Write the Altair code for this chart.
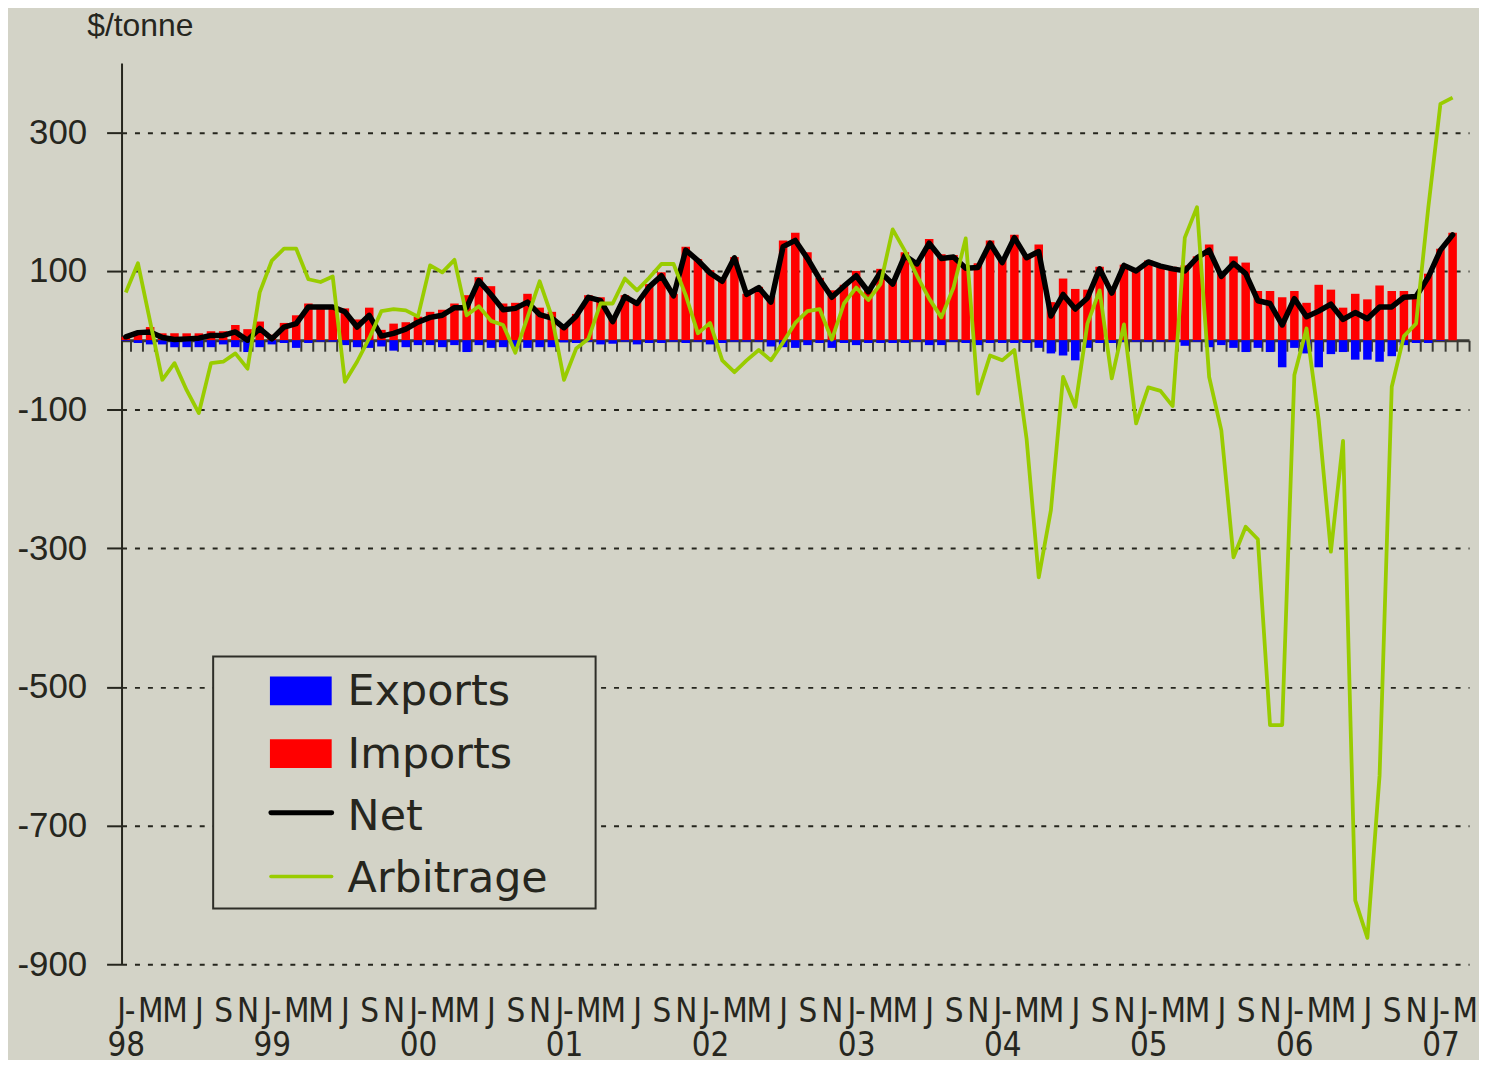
import json
import altair as alt
import pandas as pd

# ---- data (monthly, Jan 1998 .. Feb 2007; Mar 2007 band shown empty) ----
month_letters = ["J-", "", "M", "", "M", "", "J", "", "S", "", "N", ""]
year_labels = ["98", "99", "00", "01", "02", "03", "04", "05", "06", "07"]
n_bands = 111  # Jan 1998 .. Mar 2007

imports = [5, 13, 19, 10, 10, 10, 10, 13, 13, 22, 16, 27, 8, 25, 36, 53, 50, 50,
           46, 30, 47, 15, 24, 26, 34, 41, 44, 53, 65, 91, 78, 53, 54, 67, 47, 41,
           21, 38, 65, 62, 32, 65, 57, 81, 98, 67, 135, 117, 101, 88, 120, 67, 77, 64,
           144, 155, 127, 90, 72, 80, 100, 74, 103, 86, 127, 112, 146, 124, 123, 108, 111, 144,
           117, 152, 121, 138, 55, 89, 74, 73, 106, 72, 109, 100, 115, 108, 106, 108, 121, 138,
           96, 121, 112, 71, 71, 62, 71, 54, 80, 73, 47, 67, 59, 79, 71, 71, 66, 96,
           132, 155]
exports = [-1, -4, -6, -6, -10, -10, -10, -10, -6, -10, -17, -10, -6, -4, -11, -4, -2, -2,
           -7, -10, -11, -9, -15, -10, -7, -7, -10, -7, -17, -7, -11, -10, -10, -11, -10, -10,
           -3, -4, -2, -6, -5, -2, -6, -4, -4, -2, -4, -2, -6, -4, -2, -2, -2, -9,
           -10, -11, -7, -4, -11, -4, -7, -4, -4, -4, -4, -2, -7, -7, -2, -4, -7, -4,
           -4, -4, -4, -11, -19, -22, -29, -11, -4, -4, -2, -2, -2, -2, -2, -8, -2, -10,
           -7, -11, -17, -11, -17, -39, -11, -19, -39, -20, -17, -28, -28, -31, -23, -7, -4, -4,
           -1, 0]
net = [5, 11, 12, 4, 1, 2, 3, 7, 7, 12, 0, 17, 2, 19, 24, 48, 48, 48,
       41, 19, 36, 6, 10, 16, 26, 33, 36, 47, 47, 86, 66, 44, 46, 55, 37, 32,
       18, 35, 62, 57, 27, 63, 53, 77, 93, 64, 130, 115, 97, 85, 119, 66, 76, 55,
       135, 144, 118, 88, 62, 78, 93, 70, 98, 81, 122, 110, 140, 118, 120, 104, 105, 140,
       112, 148, 119, 128, 35, 66, 45, 61, 103, 68, 108, 100, 113, 107, 103, 100, 119, 130,
       92, 111, 96, 57, 53, 22, 60, 34, 42, 52, 30, 40, 31, 48, 48, 62, 63, 91,
       130, 152]
arbitrage = [69, 111, 27, -57, -33, -72, -105, -33, -31, -19, -41, 69, 115, 132, 132, 88, 84, 92,
             -60, -31, 3, 42, 45, 43, 34, 108, 98, 116, 36, 49, 28, 22, -18, 33, 85, 34,
             -57, -12, 2, 53, 53, 89, 72, 90, 110, 110, 65, 10, 25, -29, -46, -29, -14, -29,
             -3, 25, 42, 45, 1, 53, 76, 58, 81, 160, 129, 93, 60, 33, 76, 147, -77, -22,
             -29, -14, -142, -342, -245, -53, -96, 24, 72, -55, 23, -120, -68, -73, -95, 148, 192, -53,
             -130, -313, -269, -287, -555, -555, -50, 17, -115, -305, -145, -808, -862, -628, -67, 6, 24, 191,
             341, 350]

y_ticks = [300, 100, -100, -300, -500, -700, -900]
legend_labels = ["Exports", "Imports", "Net", "Arbitrage"]

BG = "#d3d3c7"
INK = "#26261e"
W, H = 1353, 905
Y_MIN, Y_MAX = -900, 400

df = pd.DataFrame({
    "idx": list(range(len(imports))),
    "Imports": imports,
    "Exports": exports,
    "Net": net,
    "Arbitrage": arbitrage,
})

label_expr = (
    f"datum.value % 12 == 0 ? [{json.dumps(month_letters)}[0], "
    f"{json.dumps(year_labels)}[floor(datum.value / 12)]] : "
    f"{json.dumps(month_letters)}[datum.value % 12]"
)

zero_offset = -(H * (0 - Y_MIN) / (Y_MAX - Y_MIN))

x_axis = alt.Axis(
    orient="bottom", offset=zero_offset, title=None, grid=False,
    tickBand="extent", domainColor="#3a3a34", domainWidth=3,
    tickColor="#3a3a34", tickWidth=2, tickSize=11,
    labelExpr=label_expr, labelAngle=0, labelAlign="center", labelBaseline="top",
    labelPadding=647, labelLineHeight=34, labelOverlap=False, labelFlush=False,
    labelFont="Liberation Sans Narrow, DejaVu Sans Condensed, Liberation Sans",
    labelFontSize=33, labelColor=INK,
)
x_enc = alt.X("idx:O", scale=alt.Scale(domain=list(range(n_bands)), paddingInner=0.3, paddingOuter=0),
              axis=x_axis)

y_axis = alt.Axis(
    values=y_ticks, grid=True, gridDash=[5, 8], gridColor=INK, gridWidth=2,
    domainColor=INK, domainWidth=2, tickColor=INK, tickWidth=2, tickSize=15,
    labelExpr="'' + datum.value",
    labelFont="Liberation Sans", labelFontSize=35, labelColor=INK, labelPadding=20,
    title="$/tonne", titleAngle=0, titleAlign="left", titleBaseline="alphabetic",
    titleX=-35, titleY=-28, titleFont="Liberation Sans", titleFontSize=32,
    titleFontWeight="normal", titleColor=INK,
)
y_scale = alt.Scale(domain=[Y_MIN, Y_MAX], nice=False, zero=False)

def yenc(field):
    return alt.Y(f"{field}:Q", scale=y_scale, axis=y_axis, title="$/tonne")

base = alt.Chart(df)
bars_imp = base.mark_bar(color="#ff0000").encode(x=x_enc, y=yenc("Imports"))
bars_exp = base.mark_bar(color="#0000ff").encode(x=x_enc, y=yenc("Exports"))
line_net = base.mark_line(color="#000000", strokeWidth=5.5, strokeJoin="round", strokeCap="round").encode(
    x=x_enc, y=yenc("Net"))
line_arb = base.mark_line(color="#99cc00", strokeWidth=3.8, strokeJoin="round").encode(
    x=x_enc, y=yenc("Arbitrage"))

# ---- legend (drawn box) ----
def one(label):
    return alt.Data(values=[{"label": label}])

legend_box = alt.Chart(one("box")).mark_rect(fill=BG, stroke="#2e2e28", strokeWidth=2).encode(
    x=alt.value(92), x2=alt.value(476), y=alt.value(596), y2=alt.value(849))
sw_exp = alt.Chart(one(legend_labels[0])).mark_rect(color="#0000ff").encode(
    x=alt.value(149), x2=alt.value(211), y=alt.value(616), y2=alt.value(645))
sw_imp = alt.Chart(one(legend_labels[1])).mark_rect(color="#ff0000").encode(
    x=alt.value(149), x2=alt.value(211), y=alt.value(679), y2=alt.value(708))
sw_net = alt.Chart(one(legend_labels[2])).mark_rule(color="#000000", strokeWidth=5, strokeCap="round").encode(
    x=alt.value(150), x2=alt.value(211), y=alt.value(753))
sw_arb = alt.Chart(one(legend_labels[3])).mark_rule(color="#99cc00", strokeWidth=3.5, strokeCap="round").encode(
    x=alt.value(150), x2=alt.value(211), y=alt.value(817))

text_layers = []
for lab, yb in zip(legend_labels, [645, 708, 770, 832]):
    text_layers.append(
        alt.Chart(one(lab)).mark_text(
            align="left", baseline="alphabetic", font="DejaVu Sans", fontSize=43, color=INK
        ).encode(x=alt.value(227), y=alt.value(yb), text="label:N")
    )

chart = alt.layer(
    bars_imp, bars_exp, line_net, line_arb,
    legend_box, sw_exp, sw_imp, sw_net, sw_arb, *text_layers
).properties(
    width=W, height=H,
    padding={"left": 114, "top": 53, "right": 10, "bottom": 94},
    autosize=alt.AutoSizeParams(type="none"),
    background=BG,
).configure_view(stroke=None)

chart.save("out.html", embed_options={"renderer": "svg", "actions": False})
